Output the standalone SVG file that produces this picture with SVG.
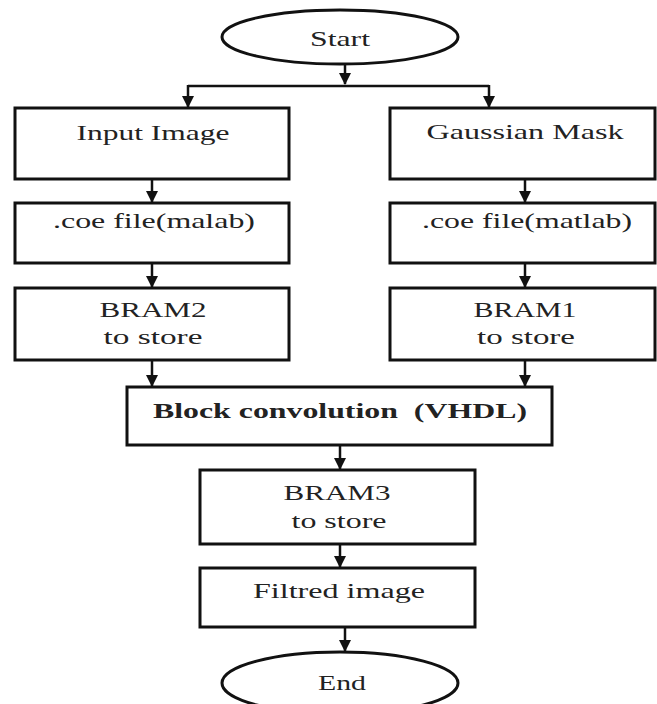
<svg xmlns="http://www.w3.org/2000/svg" width="657" height="704" viewBox="0 0 657 704">
<defs>
<style>
.box{fill:#fff;stroke:#111;stroke-width:3}
.t{font-family:"Liberation Serif","Times New Roman",serif;font-size:22px;fill:#222;text-anchor:middle}
.b{font-weight:bold}
.c{fill:none;stroke:#111;stroke-width:2.5}
</style>
<marker id="ah" markerUnits="userSpaceOnUse" markerWidth="12" markerHeight="12" viewBox="0 0 12 12" refX="11" refY="6" orient="auto">
<path d="M0,0 L12,6 L0,12 Z" fill="#111"/>
</marker>
</defs>
<rect width="657" height="704" fill="#fff"/>
<g id="connectors">
<path class="c" d="M345,64 V84" marker-end="url(#ah)"/>
<path class="c" d="M188,86 H489"/>
<path class="c" d="M188,85 V107" marker-end="url(#ah)"/>
<path class="c" d="M489,85 V107" marker-end="url(#ah)"/>
<path class="c" d="M152,180 V202" marker-end="url(#ah)"/>
<path class="c" d="M525,180 V202" marker-end="url(#ah)"/>
<path class="c" d="M152,264 V287" marker-end="url(#ah)"/>
<path class="c" d="M525,264 V287" marker-end="url(#ah)"/>
<path class="c" d="M152,361 V386" marker-end="url(#ah)"/>
<path class="c" d="M525,361 V386" marker-end="url(#ah)"/>
<path class="c" d="M340,446 V469" marker-end="url(#ah)"/>
<path class="c" d="M340,545 V567" marker-end="url(#ah)"/>
<path class="c" d="M345,628 V651" marker-end="url(#ah)"/>
</g>
<g id="start">
<ellipse class="box" cx="340" cy="37" rx="118" ry="27"/>
<text class="t" x="340" y="46" textLength="60" lengthAdjust="spacingAndGlyphs">Start</text>
</g>
<g id="input-image">
<rect class="box" x="15" y="108" width="274" height="71"/>
<text class="t" x="153" y="140" textLength="153" lengthAdjust="spacingAndGlyphs">Input Image</text>
</g>
<g id="gaussian-mask">
<rect class="box" x="390" y="108" width="265" height="71"/>
<text class="t" x="525" y="139" textLength="197" lengthAdjust="spacingAndGlyphs">Gaussian Mask</text>
</g>
<g id="coe-left">
<rect class="box" x="15" y="203" width="274" height="60"/>
<text class="t" x="154" y="228" textLength="202" lengthAdjust="spacingAndGlyphs">.coe file(malab)</text>
</g>
<g id="coe-right">
<rect class="box" x="390" y="203" width="265" height="60"/>
<text class="t" x="527" y="228" textLength="210" lengthAdjust="spacingAndGlyphs">.coe file(matlab)</text>
</g>
<g id="bram2">
<rect class="box" x="15" y="288" width="274" height="72"/>
<text class="t" x="153" y="317" textLength="107" lengthAdjust="spacingAndGlyphs">BRAM2</text>
<text class="t" x="153" y="344" textLength="99" lengthAdjust="spacingAndGlyphs">to store</text>
</g>
<g id="bram1">
<rect class="box" x="390" y="288" width="265" height="72"/>
<text class="t" x="525" y="317" textLength="103" lengthAdjust="spacingAndGlyphs">BRAM1</text>
<text class="t" x="526" y="344" textLength="98" lengthAdjust="spacingAndGlyphs">to store</text>
</g>
<g id="block-convolution">
<rect class="box" x="127" y="387" width="425" height="58"/>
<text class="t b" x="340" y="418" textLength="374" lengthAdjust="spacingAndGlyphs" xml:space="preserve">Block convolution  (VHDL)</text>
</g>
<g id="bram3">
<rect class="box" x="200" y="470" width="275" height="74"/>
<text class="t" x="337" y="500" textLength="107" lengthAdjust="spacingAndGlyphs">BRAM3</text>
<text class="t" x="339" y="528" textLength="95" lengthAdjust="spacingAndGlyphs">to store</text>
</g>
<g id="filtred-image">
<rect class="box" x="200" y="568" width="275" height="59"/>
<text class="t" x="339" y="598" textLength="172" lengthAdjust="spacingAndGlyphs">Filtred image</text>
</g>
<g id="end">
<ellipse class="box" cx="340" cy="683" rx="118" ry="31"/>
<text class="t" x="342" y="690" textLength="48" lengthAdjust="spacingAndGlyphs">End</text>
</g>
</svg>
